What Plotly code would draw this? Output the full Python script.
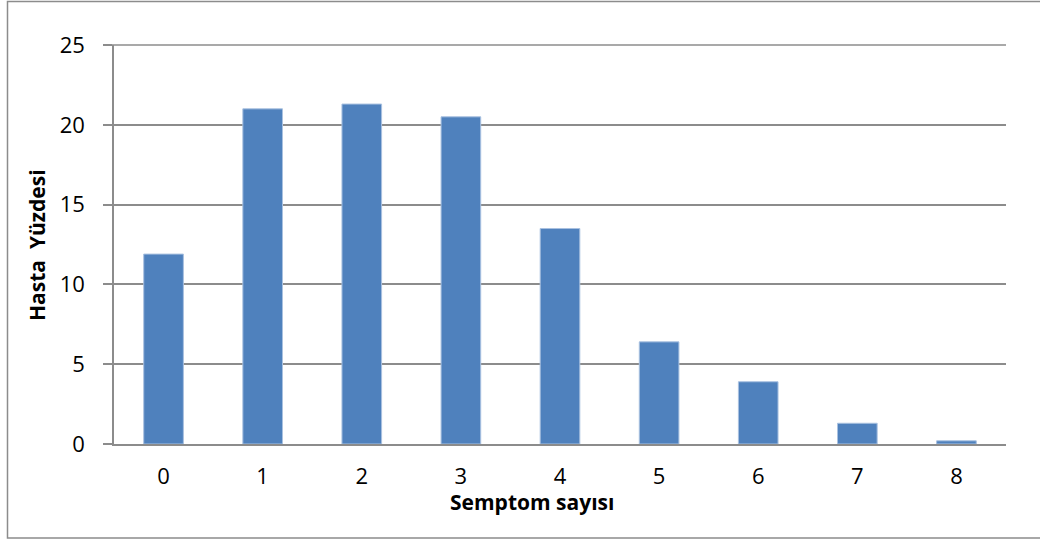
import plotly.graph_objects as go

# Number of symptoms per patient and share of patients (%)
semptom_sayisi = ["0", "1", "2", "3", "4", "5", "6", "7", "8"]
hasta_yuzdesi = [11.9, 21.0, 21.3, 20.5, 13.5, 6.4, 3.9, 1.3, 0.2]
y_ticks = [0, 5, 10, 15, 20, 25]

W, H = 1040, 540
L, R, T, B = 114, 34, 45, 96
pw, ph = W - L - R, H - T - B

def px_x(x):
    return (x - L) / pw

def px_y(y):
    return (H - B - y) / ph

font_family = "Open Sans, Lato, sans-serif"
grid_col = "#8c8c8c"

fig = go.Figure(
    go.Bar(
        x=semptom_sayisi,
        y=hasta_yuzdesi,
        marker=dict(color="#4F81BD", line=dict(color="#A9C1E0", width=1)),
        hoverinfo="x+y",
    )
)

fig.update_layout(
    width=W,
    height=H,
    margin=dict(l=L, r=R, t=T, b=B),
    paper_bgcolor="white",
    plot_bgcolor="white",
    bargap=0.6,
    showlegend=False,
    font=dict(family=font_family, color="black", size=22),
    xaxis=dict(
        type="category",
        showgrid=False,
        showline=True,
        linecolor=grid_col,
        linewidth=2,
        ticks="",
        tickfont=dict(size=22),
        ticklabelstandoff=12,
    ),
    yaxis=dict(
        range=[0, 25],
        tickvals=y_ticks,
        showgrid=True,
        gridcolor=grid_col,
        gridwidth=1.5,
        zeroline=False,
        showline=True,
        linecolor=grid_col,
        linewidth=1.5,
        ticks="outside",
        ticklen=9,
        tickcolor=grid_col,
        tickwidth=1.5,
        tickfont=dict(size=22),
        ticklabelstandoff=14,
    ),
    annotations=[
        dict(
            text="<b>Semptom sayısı</b>",
            xref="paper", yref="paper",
            x=px_x(532), y=px_y(502),
            xanchor="center", yanchor="middle",
            showarrow=False,
            font=dict(size=21, family=font_family),
        ),
        dict(
            text="<b>Hasta  Yüzdesi</b>",
            xref="paper", yref="paper",
            x=px_x(37), y=px_y(245),
            xanchor="center", yanchor="middle",
            textangle=-90,
            showarrow=False,
            font=dict(size=21, family=font_family),
        ),
    ],
    shapes=[
        dict(
            type="rect",
            xref="paper", yref="paper",
            x0=px_x(7.5), x1=px_x(1045),
            y0=px_y(538), y1=px_y(1.5),
            line=dict(color="#8c8c8c", width=1.5),
            fillcolor="rgba(0,0,0,0)",
            layer="below",
        ),
        dict(
            type="line",
            xref="paper", yref="paper",
            x0=px_x(105), x1=1,
            y0=1, y1=1,
            line=dict(color=grid_col, width=1.5),
        ),
    ],
)

fig.write_html("out.html")
